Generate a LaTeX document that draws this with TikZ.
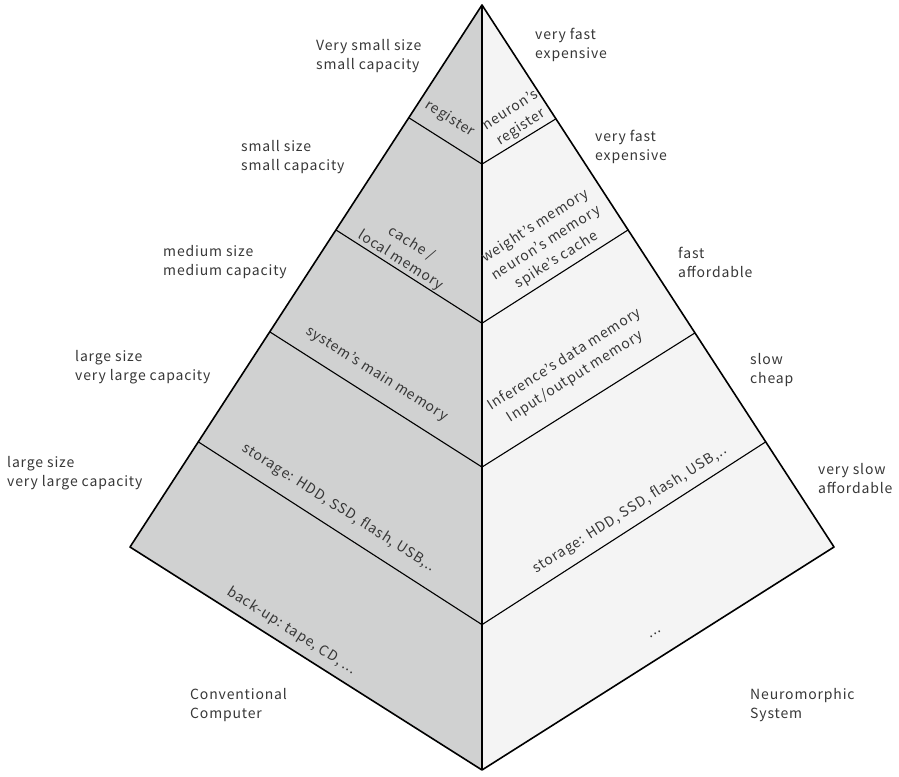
\documentclass[tikz,border=0pt]{standalone}
\usepackage{fontspec}
\newfontfamily\jpsans[LetterSpace=6]{Noto Sans CJK JP}
\usepackage{tikz}
\usetikzlibrary{calc}
\definecolor{facegray}{RGB}{208,209,209}
\definecolor{facelight}{RGB}{244,244,244}
\definecolor{txtgray}{RGB}{55,55,55}

\begin{document}
\begin{tikzpicture}[
   x=1pt, y=-1pt,
   font=\jpsans\fontsize{14}{19}\selectfont,
   edge/.style={line width=1.6pt, line join=round},
   level/.style={line width=1.1pt},
   side/.style={text=txtgray, align=left, anchor=west, inner sep=0pt},
   lyrL/.style={text=txtgray, align=center, rotate=-32.4, inner sep=1pt,
                font=\jpsans\fontsize{14}{20}\selectfont},
   lyrR/.style={text=txtgray, align=center, rotate=32.4, inner sep=1pt,
                font=\jpsans\fontsize{14}{20}\selectfont},
]
\useasboundingbox (0,0) rectangle (899,776);
% ---- corners of the pyramid ----
\coordinate (top) at (482,5);
\coordinate (lft) at (130,547);
\coordinate (rgt) at (834,547);
\coordinate (bot) at (482,770);

% ---- faces ----
\fill[facegray]  (top) -- (lft) -- (bot) -- cycle;
\fill[facelight] (top) -- (rgt) -- (bot) -- cycle;

% ---- level points ----
\coordinate (l1) at ($(top)!0.208!(lft)$);
\coordinate (c1) at ($(top)!0.208!(bot)$);
\coordinate (r1) at ($(top)!0.210!(rgt)$);
\coordinate (l2) at ($(top)!0.415!(lft)$);
\coordinate (c2) at ($(top)!0.416!(bot)$);
\coordinate (r2) at ($(top)!0.415!(rgt)$);
\coordinate (l3) at ($(top)!0.603!(lft)$);
\coordinate (c3) at ($(top)!0.604!(bot)$);
\coordinate (r3) at ($(top)!0.605!(rgt)$);
\coordinate (l4) at ($(top)!0.806!(lft)$);
\coordinate (c4) at ($(top)!0.810!(bot)$);
\coordinate (r4) at ($(top)!0.806!(rgt)$);

\draw[level] (l1) -- (c1) -- (r1);
\draw[level] (l2) -- (c2) -- (r2);
\draw[level] (l3) -- (c3) -- (r3);
\draw[level] (l4) -- (c4) -- (r4);

% ---- outline ----
\draw[edge] (top) -- (lft) -- (bot) -- (rgt) -- cycle;
\draw[edge] (top) -- (bot);

% ---- conventional computer layers ----
\node[lyrL] (regC) at (450,119) {register};
\node[lyrL] (cacheC) at (406,252) {cache /\\local memory};
\node[lyrL] (mainC) at (377,374) {system’s main memory};
\node[lyrL] (storC) at (339,508) {storage: HDD, SSD, flash, USB,..};
\node[lyrL] (backC) at (292,631) {back-up: tape, CD, ...};

% ---- neuromorphic layers ----
\node[lyrR] (regN) at (516,119) {neuron’s\\register};
\node[lyrR] (cacheN) at (546,243) {weight’s memory\\neuron’s memory\\spike’s cache};
\node[lyrR] (mainN) at (570,368) {Inference’s data memory\\Input/output memory};
\node[lyrR] (storN) at (630,510) {storage: HDD, SSD, flash, USB,..};
\node[lyrR] (dotsN) at (656,634) {...};

% ---- size / capacity ----
\node[side] (sz1) at (316,56) {Very small size\\small capacity};
\node[side] (sz2) at (241,157) {small size\\small capacity};
\node[side] (sz3) at (163,262) {medium size\\medium capacity};
\node[side] (sz4) at (75,367) {large size\\very large capacity};
\node[side] (sz5) at (7,473) {large size\\very large capacity};

% ---- speed / cost ----
\node[side] (sp1) at (535,45) {very fast\\expensive};
\node[side] (sp2) at (595,147) {very fast\\expensive};
\node[side] (sp3) at (678,262) {fast\\affordable};
\node[side] (sp4) at (750,370) {slow\\cheap};
\node[side] (sp5) at (818,479) {very slow\\affordable};

% ---- systems ----
\node[side] (conv) at (190,705) {Conventional\\Computer};
\node[side] (neuro) at (750,705) {Neuromorphic\\System};
\end{tikzpicture}
\end{document}
